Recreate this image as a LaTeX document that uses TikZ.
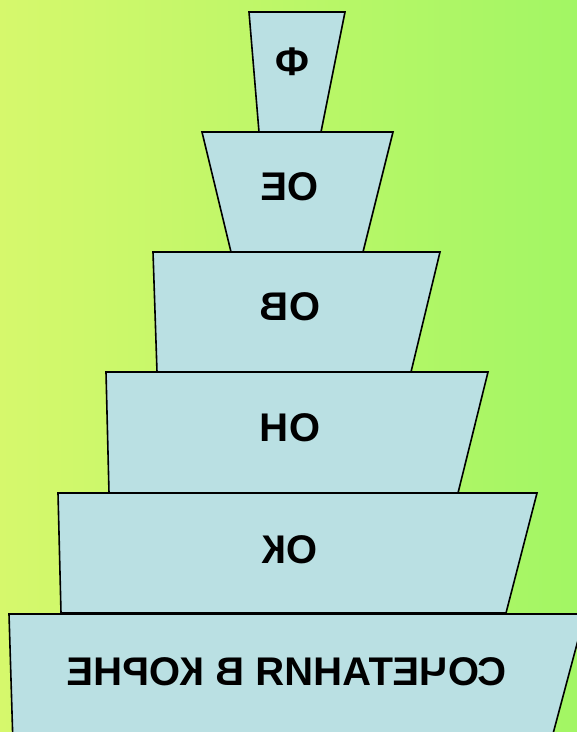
\documentclass[tikz,border=0pt]{standalone}
\usepackage{fontspec}
\setmainfont{Liberation Sans}
\def \phiStr {Ф}
\def \eoStr {ОЕ}
\def \voStr {ОВ}
\def \noStr {ОН}
\def \koStr {ОК}
\def \rootStr {СОЧЕТАНИЯ В КОРНЕ}
\def \tierLine {1.6pt}

\begin{document}
\begin{tikzpicture}[x=1pt,y=-1pt]


\definecolor{leftgreen}{RGB}{214,248,108}
\definecolor{rightgreen}{RGB}{162,246,100}
\definecolor{tierblue}{RGB}{186,224,227}

\useasboundingbox (0,0) rectangle (577,732);
\shade[left color=leftgreen, right color=rightgreen] (0,0) rectangle (577,732);


\begin{scope}[tier/.style={fill=tierblue, draw=black, line width=\tierLine},
  mytext/.style={xscale=-1, font=\fontsize{40}{42}\selectfont\bfseries}]

\clip (0,0) rectangle (577,732);

\draw[tier] (9,614) -- (585,614) -- (550,745) -- (13,745) -- cycle;
\draw[tier] (58,493) -- (537,493) -- (506,613) -- (61,613) -- cycle;
\draw[tier] (106,372) -- (488,372) -- (458,493) -- (109,493) -- cycle;
\draw[tier] (153,252) -- (440,252) -- (411,372) -- (157,372) -- cycle;
\draw[tier] (202,132) -- (393,132) -- (363,252) -- (231,252) -- cycle;
\draw[tier] (249,12) -- (345,12) -- (321,132) -- (259,132) -- cycle;


\node[mytext] (phi) at (292,62) {\phiStr};
\node[mytext] (eo) at (290,187) {\eoStr};
\node[mytext] (vo) at (290,307) {\voStr};
\node[mytext] (no) at (290,428) {\noStr};
\node[mytext] (ko) at (290,550) {\koStr};
\node[mytext] (root) at (287,672) {\rootStr};


\end{scope}
\end{tikzpicture}
\end{document}
